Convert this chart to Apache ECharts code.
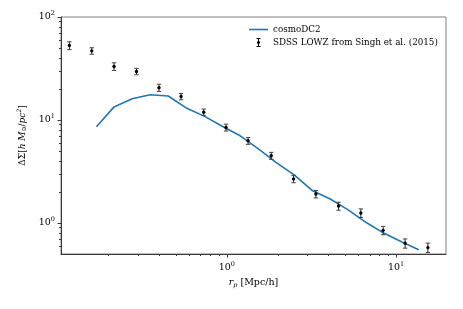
<!DOCTYPE html>
<html>
<head>
<meta charset="utf-8">
<script src="https://cdn.jsdelivr.net/npm/echarts@6/dist/echarts.min.js"></script>
<style>html,body{margin:0;padding:0;background:#fff}#c{width:463px;height:309px}</style>
</head>
<body>
<div id="c"></div>
<script>
// cosmoDC2 model curve
var modelR = [0.170, 0.216, 0.276, 0.353, 0.451, 0.576, 0.736, 0.94, 1.20, 1.53, 1.96, 2.50, 3.19, 4.08, 5.21, 6.66, 8.50, 10.9, 13.6];
var modelDS = [8.6, 13.4, 16.1, 17.6, 17.1, 13.1, 10.9, 8.7, 7.02, 5.28, 3.86, 2.93, 2.07, 1.71, 1.34, 1.01, 0.794, 0.65, 0.55];
// SDSS LOWZ measurements
var obsR = [0.1177, 0.1595, 0.216, 0.293, 0.398, 0.537, 0.731, 0.99, 1.336, 1.83, 2.48, 3.36, 4.57, 6.19, 8.38, 11.3, 15.4];
var obsDS = [52.8, 46.9, 33.1, 29.6, 20.6, 16.9, 11.9, 8.46, 6.28, 4.50, 2.68, 1.91, 1.46, 1.25, 0.848, 0.635, 0.577];
var obsErr = [4.6, 3.4, 2.8, 2.1, 1.65, 1.2, 0.87, 0.65, 0.48, 0.35, 0.22, 0.16, 0.13, 0.12, 0.08, 0.065, 0.06];
// ticks
var xMajor = [1, 10];
var xMinor = [0.2, 0.3, 0.4, 0.5, 0.6, 0.7, 0.8, 0.9, 2, 3, 4, 5, 6, 7, 8, 9];
var yMajor = [1, 10, 100];
var yMinor = [0.6, 0.7, 0.8, 0.9, 2, 3, 4, 5, 6, 7, 8, 9, 20, 30, 40, 50, 60, 70, 80, 90];
var labelLine = 'cosmoDC2';
var labelObs = 'SDSS LOWZ from Singh et al. (2015)';

var FF = 'DejaVu Serif';
var AX = '#3a3a3a';
var X_MIN = 0.105, X_MAX = 19.7, Y_MIN = 0.5, Y_MAX = 100;

var modelData = modelR.map(function (r, i) { return [r, modelDS[i]]; });
var obsData = obsR.map(function (r, i) { return [r, obsDS[i], obsDS[i] - obsErr[i], obsDS[i] + obsErr[i]]; });

function powFmt(v) {
  var e = Math.round(Math.log10(v));
  return '{b|10}{s|' + e + '}';
}
var powRich = {
  b: { fontFamily: FF, fontSize: 9.5, color: '#000' },
  s: { fontFamily: FF, fontSize: 6.5, color: '#000', verticalAlign: 'bottom', padding: [0, 0, 7, 0] }
};

var chart = echarts.init(document.getElementById('c'), null, { renderer: 'canvas' });
var grid = { left: 61, right: 17, top: 17, bottom: 55, show: true, borderColor: '#808080', borderWidth: 1, backgroundColor: 'transparent' };

chart.setOption({
  animation: false,
  grid: grid,
  legend: {
    orient: 'vertical', left: 244, top: 20, itemWidth: 19, itemHeight: 9, itemGap: 4,
    textStyle: { fontFamily: FF, fontSize: 8.75, color: '#000' },
    data: [
      { name: labelLine, icon: 'path://M0,0 M19,9 M0,3.7 L19,3.7 L19,5.3 L0,5.3 Z', itemStyle: { color: '#1f77b4' } },
      { name: labelObs, icon: 'path://M0,0 M19,9 M9,0 L10,0 L10,9 L9,9 Z M7.5,0 L11.5,0 L11.5,1 L7.5,1 Z M7.5,8 L11.5,8 L11.5,9 L7.5,9 Z M8,3.5 L11,3.5 L11,5.5 L8,5.5 Z', itemStyle: { color: '#000' } }
    ]
  },
  xAxis: [
    {
      type: 'log', logBase: 10, min: X_MIN, max: X_MAX, position: 'bottom',
      name: '{i|r}{sub|p} [Mpc/h]', nameLocation: 'middle', nameGap: 23,
      nameTextStyle: { fontFamily: FF, fontSize: 9.5, color: '#000',
        rich: { i: { fontFamily: FF, fontStyle: 'italic', fontSize: 9.5 }, sub: { fontFamily: FF, fontStyle: 'italic', fontSize: 6.5, verticalAlign: 'top', padding: [5, 0, 0, 0] } } },
      axisLine: { show: true, lineStyle: { color: AX, width: 1 } },
      axisTick: { show: true, length: 3.5, lineStyle: { color: AX }, customValues: xMajor },
      axisLabel: { show: true, margin: 7, customValues: xMajor, formatter: powFmt, rich: powRich },
      splitLine: { show: false }, minorTick: { show: false }
    },
    {
      type: 'log', logBase: 10, min: X_MIN, max: X_MAX, position: 'bottom', gridIndex: 0,
      axisLine: { show: false },
      axisTick: { show: true, length: 2, lineStyle: { color: AX }, customValues: xMinor },
      axisLabel: { show: false }, splitLine: { show: false }
    }
  ],
  yAxis: [
    {
      type: 'log', logBase: 10, min: Y_MIN, max: Y_MAX, position: 'left',
      name: '\u0394\u03a3[{i|h} {i|M}{sub|\u2299}/{i|pc}{sup|2}]', nameLocation: 'middle', nameGap: 32, nameRotate: 90,
      nameTextStyle: { fontFamily: FF, fontSize: 9, color: '#000',
        rich: {
          i: { fontFamily: FF, fontStyle: 'italic', fontSize: 9 },
          sub: { fontFamily: FF, fontSize: 6, verticalAlign: 'top', padding: [5, 0, 0, 0] },
          sup: { fontFamily: FF, fontStyle: 'italic', fontSize: 6, verticalAlign: 'bottom', padding: [0, 0, 6, 0] }
        } },
      axisLine: { show: true, lineStyle: { color: AX, width: 1 } },
      axisTick: { show: true, length: 3.5, lineStyle: { color: AX }, customValues: yMajor },
      axisLabel: { show: true, margin: 6, customValues: yMajor, formatter: powFmt, rich: powRich },
      splitLine: { show: false }
    },
    {
      type: 'log', logBase: 10, min: Y_MIN, max: Y_MAX, position: 'left', gridIndex: 0,
      axisLine: { show: false },
      axisTick: { show: true, length: 2, lineStyle: { color: AX }, customValues: yMinor },
      axisLabel: { show: false }, splitLine: { show: false }
    }
  ],
  series: [
    {
      name: labelLine, type: 'line', data: modelData, xAxisIndex: 0, yAxisIndex: 0,
      showSymbol: false, symbol: 'none', smooth: false,
      lineStyle: { color: '#1f77b4', width: 1.6 }, itemStyle: { color: '#1f77b4' }, z: 3
    },
    {
      name: labelObs, type: 'custom', data: obsData, xAxisIndex: 0, yAxisIndex: 0, z: 4,
      itemStyle: { color: '#000' },
      encode: { x: 0, y: 1 },
      renderItem: function (params, api) {
        var p = api.coord([api.value(0), api.value(1)]);
        var lo = api.coord([api.value(0), api.value(2)]);
        var hi = api.coord([api.value(0), api.value(3)]);
        var cw = 2.2;
        return {
          type: 'group',
          children: [
            { type: 'line', shape: { x1: p[0], y1: lo[1], x2: p[0], y2: hi[1] }, style: { stroke: '#222', lineWidth: 1 } },
            { type: 'line', shape: { x1: p[0] - cw, y1: lo[1], x2: p[0] + cw, y2: lo[1] }, style: { stroke: '#444', lineWidth: 1 } },
            { type: 'line', shape: { x1: p[0] - cw, y1: hi[1], x2: p[0] + cw, y2: hi[1] }, style: { stroke: '#444', lineWidth: 1 } },
            { type: 'circle', shape: { cx: p[0], cy: p[1], r: 1.7 }, style: { fill: '#000' } }
          ]
        };
      }
    }
  ]
});
</script>
</body>
</html>
